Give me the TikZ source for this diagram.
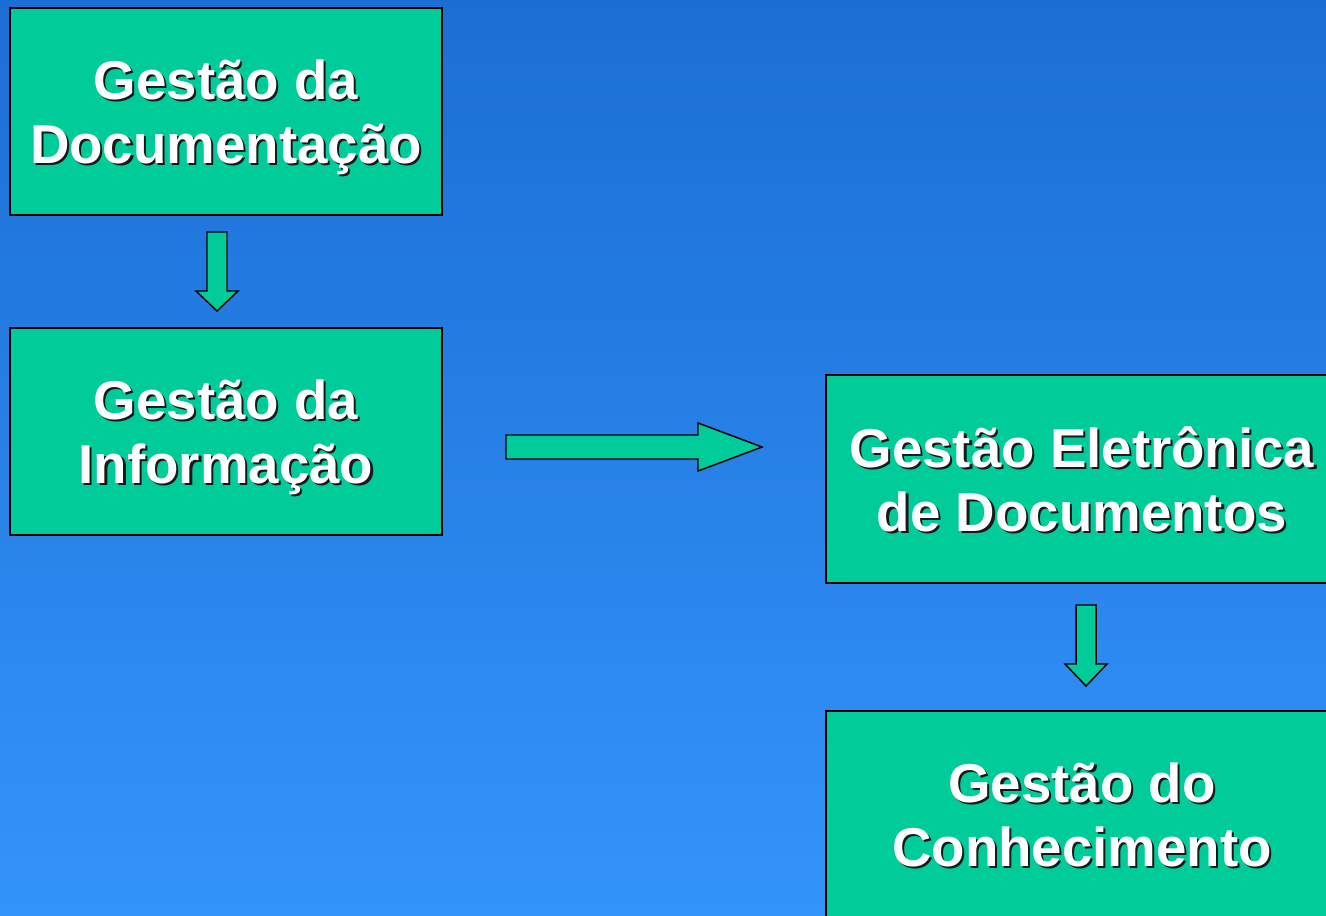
\documentclass[tikz,border=0pt]{standalone}
\usepackage{fontspec}
\setmainfont{Liberation Sans}
\definecolor{bgtop}{RGB}{27,110,212}
\definecolor{bgbot}{RGB}{51,148,250}
\definecolor{boxgreen}{RGB}{0,204,153}
\definecolor{shadowc}{RGB}{25,25,25}
\newcommand\sht[1]{\rlap{\kern1.6pt\raisebox{-1.6pt}{\textcolor{shadowc}{#1}}}#1}
\tikzset{
  x=0.75pt, y=-0.75pt,
  stagebox/.style={draw=black, line width=1.1pt, fill=boxgreen, inner sep=0pt, outer sep=0pt,
    text=white, align=center, text depth=-5pt, font=\fontsize{41}{48}\selectfont\bfseries},
  blockarrow/.style={draw=black, line width=1.1pt, fill=boxgreen, line join=miter}
}
\begin{document}
\begin{tikzpicture}
\useasboundingbox (0,0) rectangle (1326,916);
\begin{scope}
\clip (0,0) rectangle (1326,916);
\shade[top color=bgtop, bottom color=bgbot] (0,0) rectangle (1326,916);

\node[stagebox, minimum width=324pt, minimum height=155.25pt] (b1) at (226,111.5)
  {\sht{Gestão da}\\\sht{Documentação}};
\node[stagebox, minimum width=324pt, minimum height=155.25pt] (b2) at (226,431.5)
  {\sht{Gestão da}\\\sht{Informação}};
\node[stagebox, minimum width=384pt, minimum height=156pt] (b3) at (1082,479)
  {\sht{Gestão Eletrônica}\\\sht{de Documentos}};
\node[stagebox, minimum width=384pt, minimum height=156pt] (b4) at (1082,815)
  {\sht{Gestão do}\\\sht{Conhecimento}};

% down arrow b1 -> b2
\coordinate (a1s) at (217,232);
\coordinate (a1t) at (217,311);
\draw[blockarrow] (a1s) ++(-10,0) -- ++(20,0) -- ++(0,59) -- ++(11,0) -- (a1t) -- ++(-21,-20) -- ++(11,0) -- cycle;

% right arrow b2 -> b3
\coordinate (a2s) at (506,447);
\coordinate (a2t) at (762,447);
\draw[blockarrow] (a2s) ++(0,-12) -- ++(192,0) -- ++(0,-12) -- (a2t) -- ++(-64,24) -- ++(0,-12) -- ++(-192,0) -- cycle;

% down arrow b3 -> b4
\coordinate (a3s) at (1086,605);
\coordinate (a3t) at (1086,686);
\draw[blockarrow] (a3s) ++(-10,0) -- ++(20,0) -- ++(0,59) -- ++(11,0) -- (a3t) -- ++(-21,-22) -- ++(11,0) -- cycle;
\end{scope}
\end{tikzpicture}
\end{document}
